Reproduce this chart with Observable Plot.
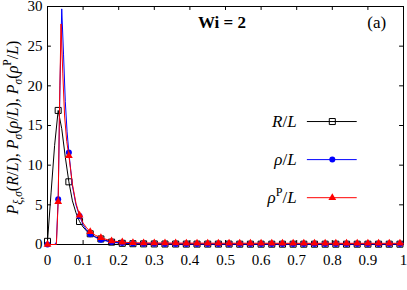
<!DOCTYPE html>
<html><head><meta charset="utf-8">
<script src="https://cdn.jsdelivr.net/npm/d3@7"></script>
<script src="https://cdn.jsdelivr.net/npm/@observablehq/plot@0.6"></script>
<style>
body{margin:0;background:#fff}
svg{display:block}
</style>
</head><body><div id="chart"></div>
<script>
// ---- axis ticks ----
const xTicks = [0,0.1,0.2,0.3,0.4,0.5,0.6,0.7,0.8,0.9,1];
const xTickLabels = ["0","0.1","0.2","0.3","0.4","0.5","0.6","0.7","0.8","0.9","1"];
const yTicks = [0,5,10,15,20,25,30];
const yTickLabels = ["0","5","10","15","20","25","30"];

// ---- marker data (every 0.03) ----
const markerX = [0,0.03,0.06,0.09,0.12,0.15,0.18,0.21,0.24,0.27,0.30,0.33,0.36,0.39,0.42,0.45,0.48,0.51,0.54,0.57,0.60,0.63,0.66,0.69,0.72,0.75,0.78,0.81,0.84,0.87,0.90,0.93,0.96,0.99];
const rMarkers    = [0.4,16.9,7.9,2.9,1.35,0.7,0.3,0.15,0.1,0.08,0.07,0.06,0.06,0.05,0.05,0.05,0.05,0.05,0.04,0.04,0.04,0.04,0.04,0.04,0.04,0.04,0.04,0.04,0.04,0.04,0.04,0.04,0.04,0.04];
const rhoMarkers  = [0,5.7,11.6,3.6,1.3,0.6,0.3,0.18,0.12,0.1,0.08,0.07,0.06,0.06,0.05,0.05,0.05,0.05,0.05,0.05,0.05,0.05,0.05,0.05,0.05,0.05,0.05,0.05,0.05,0.05,0.05,0.05,0.05,0.05];
const rhoPMarkers = [0,5.4,11.2,3.7,1.6,0.85,0.45,0.3,0.22,0.2,0.19,0.18,0.18,0.17,0.17,0.17,0.16,0.16,0.16,0.16,0.15,0.15,0.15,0.15,0.15,0.15,0.15,0.15,0.15,0.15,0.15,0.15,0.15,0.15];

// ---- finer line data ----
const rLineX = [0,0.01,0.02,0.03,0.04,0.05,0.06,0.07,0.08,0.09,0.10,0.11,0.12,0.135,0.15,0.18,0.21,0.24,0.27,0.30,0.40,0.50,0.60,0.70,0.80,0.90,1.00];
const rLineY = [0.4,6.5,12.5,16.9,14.6,11.0,7.9,5.5,4.0,2.9,2.2,1.7,1.35,0.95,0.7,0.3,0.15,0.1,0.08,0.07,0.05,0.05,0.04,0.04,0.04,0.04,0.04];
const rhoLineX = [0,0.02,0.025,0.03,0.035,0.04,0.045,0.05,0.055,0.06,0.07,0.08,0.09,0.10,0.11,0.12,0.135,0.15,0.18,0.21,0.24,0.27,0.30,0.40,0.50,0.60,0.70,0.80,0.90,1.00];
const rhoLineY = [0,0,0.3,5.7,20,29.7,24,18,14.2,11.6,7.4,5.0,3.6,2.5,1.8,1.3,0.9,0.6,0.3,0.18,0.12,0.1,0.08,0.06,0.05,0.05,0.05,0.05,0.05,0.05];
const rhoPLineX = [0,0.025,0.03,0.034,0.038,0.043,0.048,0.054,0.06,0.07,0.08,0.09,0.10,0.11,0.12,0.135,0.15,0.18,0.21,0.24,0.27,0.30,0.40,0.50,0.60,0.70,0.80,0.90,1.00];
const rhoPLineY = [0,0,5.4,18,27.8,21.5,16.2,13.0,11.2,7.6,5.2,3.7,2.7,2.1,1.6,1.15,0.85,0.45,0.3,0.22,0.2,0.19,0.17,0.16,0.16,0.15,0.15,0.15,0.15];

// ---- labels ----
const seriesLabels = ["R/L", "ρ/L", "ρ^{P}/L"];
const seriesColors = ["#000000", "#0000ff", "#ff0000"];
const seriesSymbols = ["square", "circle", "triangle"];
const yLabel = "P_{ξ,σ}(R/L), P_{σ}(ρ/L), P_{σ}(ρ^{P}/L)";
const titleText = "Wi = 2";
const panelText = "(a)";

// ---- tables ----
const toRows = (xs, ys) => xs.map((x, i) => ({x, y: ys[i]}));
const lines = [toRows(rLineX, rLineY), toRows(rhoLineX, rhoLineY), toRows(rhoPLineX, rhoPLineY)];
const markers = [toRows(markerX, rMarkers), toRows(markerX, rhoMarkers), toRows(markerX, rhoPMarkers)];

const FONT = "serif";
const FS_TICK = 15, FS_LEG = 17, FS_YLAB = 16, FS_TITLE = 17;
const symR = {square: 3.4, circle: 3, triangle: 2.9};
const symStyle = (i) => seriesSymbols[i] === "square"
  ? {fill: "none", stroke: seriesColors[i], strokeWidth: 1}
  : {fill: seriesColors[i], stroke: "none"};

// legend placement (data units)
const legTextX = 0.70, legLineX1 = 0.73, legLineX2 = 0.87, legMarkX = 0.80;
const legY0 = 15.5, legStep = 4.8;
const legRows = seriesLabels.map((label, i) => ({label, i, y: legY0 - i * legStep}));

const marks = [
  Plot.frame({stroke: "#000"}),
  Plot.ruleX(xTicks, {x: d => d, y1: 0, y2: 0.5, stroke: "#000"}),
  Plot.ruleX(xTicks, {x: d => d, y1: 30, y2: 29.5, stroke: "#000"}),
  Plot.ruleY(yTicks, {y: d => d, x1: 0, x2: 0.011, stroke: "#000"}),
  Plot.ruleY(yTicks, {y: d => d, x1: 1, x2: 0.989, stroke: "#000"}),
  Plot.axisX({ticks: xTicks, tickFormat: d => xTickLabels[xTicks.indexOf(d)], tickSize: 0, tickPadding: 10, fontSize: FS_TICK, fontFamily: FONT, label: null}),
  Plot.axisY({ticks: yTicks, tickFormat: d => yTickLabels[yTicks.indexOf(d)], tickSize: 0, tickPadding: 5, fontSize: FS_TICK, fontFamily: FONT, label: null}),
];
for (let i = 0; i < 3; i++) {
  marks.push(Plot.line(lines[i], {x: "x", y: "y", stroke: seriesColors[i], strokeWidth: 1}));
  marks.push(Plot.dot(markers[i], {x: "x", y: "y", symbol: () => seriesSymbols[i], r: symR[seriesSymbols[i]], ...symStyle(i)}));
}
for (const row of legRows) {
  marks.push(Plot.ruleY([row], {y: "y", x1: legLineX1, x2: legLineX2, stroke: seriesColors[row.i], strokeWidth: 1}));
  marks.push(Plot.dot([row], {x: legMarkX, y: "y", symbol: () => seriesSymbols[row.i], r: symR[seriesSymbols[row.i]], ...symStyle(row.i)}));
  marks.push(Plot.text([row], {x: legTextX, y: "y", text: "label", textAnchor: "end", fontSize: FS_LEG, fontFamily: FONT, fill: "#000"}));
}
marks.push(Plot.text([titleText], {x: 0.49, y: 28.0, text: d => d, fontSize: FS_TITLE, fontFamily: FONT, fontWeight: "bold", fill: "#000"}));
marks.push(Plot.text([panelText], {x: 0.925, y: 28.0, text: d => d, fontSize: FS_TITLE, fontFamily: FONT, fill: "#000"}));
marks.push(Plot.text([yLabel], {frameAnchor: "left", textAnchor: "middle", rotate: -90, dx: -35, dy: 2, text: d => d, fontSize: FS_YLAB, fontFamily: FONT, fill: "#000"}));

const chart = Plot.plot({
  width: 407, height: 290,
  marginLeft: 47, marginRight: 4, marginTop: 6, marginBottom: 46,
  x: {domain: [0, 1]},
  y: {domain: [0, 30]},
  style: {fontFamily: FONT, fontSize: FS_TICK + "px", color: "#000", background: "#fff"},
  marks
});
document.getElementById("chart").appendChild(chart);

function renderRich(el, src, fs) {
  const sel = d3.select(el); sel.text(null);
  const segs = [];
  let i = 0, buf = "";
  while (i < src.length) {
    const c = src[i];
    if ((c === "_" || c === "^") && src[i + 1] === "{") {
      if (buf) { segs.push({t: buf, m: "main"}); buf = ""; }
      const j = src.indexOf("}", i);
      segs.push({t: src.slice(i + 2, j), m: c === "_" ? "sub" : "sup"});
      i = j + 1;
    } else { buf += c; i++; }
  }
  if (buf) segs.push({t: buf, m: "main"});
  let cur = 0;
  for (const s of segs) {
    const target = s.m === "sub" ? 0.3 * fs : s.m === "sup" ? -0.4 * fs : 0;
    const size = s.m === "main" ? fs : 0.72 * fs;
    const runs = s.t.match(/(\p{L}+|[^\p{L}]+)/gu) || [];
    let first = true;
    for (const r of runs) {
      const isLetter = /\p{L}/u.test(r);
      const ts = sel.append("tspan").attr("font-size", size)
        .attr("font-style", isLetter && s.m !== "sup" ? "italic" : "normal").text(r);
      if (first && target !== cur) { ts.attr("dy", (target - cur)); cur = target; }
      first = false;
    }
  }
}
d3.select(chart).selectAll("text").each(function() {
  const t = this.textContent;
  if (seriesLabels.includes(t)) renderRich(this, t, FS_LEG);
  else if (t === yLabel) { renderRich(this, t, FS_YLAB); this.setAttribute("text-anchor", "middle"); }
});
d3.select(chart).selectAll("text, tspan").attr("font-family", FONT);
</script></body></html>
